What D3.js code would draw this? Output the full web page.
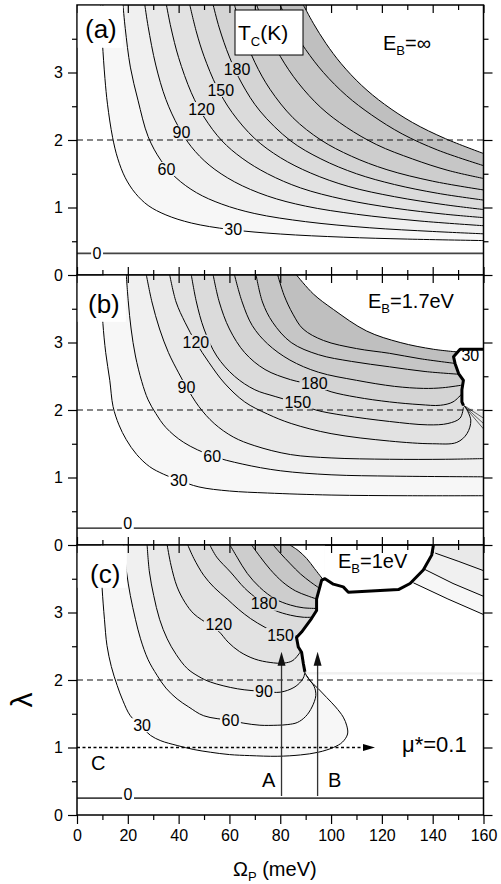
<!DOCTYPE html>
<html>
<head>
<meta charset="utf-8">
<script src="https://cdn.jsdelivr.net/npm/d3@7"></script>
<style>
body { margin: 0; background: #fff; }
svg text { font-family: "Liberation Sans", Arial, sans-serif; fill: #000; }
</style>
</head>
<body>
<svg width="501" height="884"></svg>
<script>
// Tc contour levels (K) and the grey painted above each level
var levels = [30, 60, 90, 120, 150, 180, 210, 240, 270, 300];
var greys = ['#f7f7f7', '#f0f0f0', '#e9e9e9', '#e2e2e2', '#dbdbdb', '#d4d4d4', '#cdcdcd', '#c6c6c6', '#bfbfbf', '#ffffff'];

var xTicks = [0, 20, 40, 60, 80, 100, 120, 140, 160];
var xMinor = [10, 30, 50, 70, 90, 110, 130, 150];
var yTicks = [0, 1, 2, 3];
var yMinor = [0.5, 1.5, 2.5, 3.5];

// (a) E_B = inf : one line per level, points are [Omega_P, lambda]
var contA = [
  [[9.3,4.0],[10,3.45],[11,2.91],[12,2.53],[14,2.04],[16,1.73],[19,1.44],[23,1.21],[28,1.03],[35,0.89],[45,0.77],[60,0.675],[80,0.607],[105,0.56],[130,0.532],[160,0.51]],
  [[18.1,4.0],[19,3.65],[21,3.08],[24,2.59],[28,2.05],[33,1.70],[39,1.44],[47,1.22],[57,1.05],[70,0.91],[90,0.79],[115,0.70],[140,0.645],[160,0.61]],
  [[26.7,4.0],[28,3.68],[31,3.11],[35,2.60],[40,2.19],[45,1.90],[52,1.63],[62,1.38],[75,1.17],[90,1.02],[110,0.90],[135,0.80],[160,0.73]],
  [[35.2,4.0],[37,3.66],[40,3.22],[45,2.70],[50,2.34],[57,1.99],[65,1.73],[75,1.50],[88,1.29],[105,1.12],[125,0.99],[145,0.90],[160,0.85]],
  [[44.4,4.0],[47,3.60],[50,3.24],[55,2.79],[61,2.41],[70,2.02],[80,1.74],[92,1.51],[107,1.31],[125,1.16],[145,1.04],[160,0.97]],
  [[53.6,4.0],[56,3.66],[60,3.23],[65,2.83],[72,2.43],[84,1.99],[96,1.72],[110,1.50],[125,1.34],[142,1.21],[160,1.11]],
  [[62,4.0],[65,3.62],[70,3.15],[76,2.75],[85,2.33],[96,2.0],[108,1.76],[122,1.56],[140,1.39],[160,1.26]],
  [[70.7,4.0],[74,3.69],[80,3.24],[87,2.85],[96,2.48],[106,2.19],[118,1.93],[132,1.72],[146,1.55],[160,1.43]],
  [[79.9,4.0],[84,3.70],[90,3.34],[97,3.0],[106,2.66],[116,2.37],[128,2.09],[142,1.85],[160,1.62]],
  [[89.1,4.0],[93,3.73],[98,3.43],[104,3.13],[112,2.81],[121,2.53],[132,2.26],[145,2.02],[160,1.80]]
];
var labA = [['180',63,3.05],['150',56.6,2.74],['120',49,2.46],['90',41.1,2.11],['60',35.2,1.57],['30',61.5,0.68],['0',7.9,0.32]];

// (b) E_B = 1.7 eV
var contB = [
  [[9.5,4.0],[9.8,3.6],[10.2,3.28],[11.3,2.85],[12.9,2.44],[14.2,2.05],[16.5,1.78],[19.4,1.56],[23.5,1.34],[28.6,1.16],[34,1.05],[40,0.96],[48,0.86],[60,0.80],[75,0.77],[100,0.74],[130,0.73],[160,0.73]],
  [[19.4,4.0],[20.2,3.6],[21.3,3.2],[23,2.8],[25.5,2.42],[28,2.15],[31,1.95],[35,1.74],[42,1.52],[53.2,1.32],[65,1.20],[80,1.10],[100,1.04],[125,1.02],[160,1.01]],
  [[27.3,4.0],[29.5,3.6],[32.5,3.2],[36,2.85],[40,2.55],[43.1,2.34],[48,2.05],[54,1.8],[61.5,1.6],[70,1.47],[84,1.34],[100,1.29],[123,1.27],[145,1.27],[160,1.28]],
  [[36.5,4.0],[39,3.6],[42.5,3.3],[46.8,3.0],[52,2.7],[58,2.4],[66,2.12],[75,1.94],[84.3,1.80],[100,1.65],[123,1.54],[140,1.50],[149.5,1.52],[153.5,1.65],[155,1.85],[152.8,2.05]],
  [[45,4.0],[47,3.6],[50,3.2],[55,2.8],[62,2.5],[70,2.3],[78,2.2],[86.9,2.1],[94,2.0],[105,1.92],[123,1.83],[138,1.78],[146,1.80],[150.8,1.88],[152.1,2.04]],
  [[53.6,4.0],[56,3.6],[60,3.2],[66,2.85],[74,2.6],[84,2.45],[93,2.37],[100,2.27],[110,2.19],[123,2.12],[135,2.08],[143,2.07],[148,2.12],[151.5,2.24]],
  [[62,4.0],[65,3.6],[69,3.25],[75,2.98],[83.8,2.74],[95,2.56],[110,2.44],[125,2.35],[136.4,2.32],[144,2.33],[151.8,2.37]],
  [[70.5,4.0],[73,3.6],[77,3.3],[84.3,3.0],[95,2.82],[108,2.72],[123,2.64],[137,2.57],[150.2,2.53]],
  [[79,4.0],[81.5,3.7],[85,3.42],[89,3.2],[97,3.03],[110,2.91],[123,2.84],[135,2.76],[148.8,2.69]],
  [[86.4,4.0],[93,3.72],[100.9,3.49],[114,3.17],[127.2,3.0],[140.3,2.90],[149.8,2.86]]
];
var labB = [['120',46.8,3.01],['90',43.1,2.34],['60',53.2,1.32],['30',40.1,0.96],['150',86.9,2.12],['180',93.4,2.40],['0',20,0.32]];
var edgeB = [[152.1,2.07],[151.5,2.12],[151.5,2.30],[152.1,2.44],[150.2,2.54],[148.8,2.69],[148.2,2.79],[150.8,2.90],[160,2.90]];
var fanB = [[[152.1,2.07],[160,1.88]], [[152.1,2.07],[160,1.80]], [[152.1,2.07],[160,1.72]]];

// (c) E_B = 1 eV
var contC = [
  [[9.2,4.0],[9.5,3.7],[9.9,3.35],[10.8,2.9],[11.8,2.51],[13.5,2.2],[15.8,1.92],[18,1.7],[21,1.47],[25.6,1.30],[28.9,1.18],[33,1.1],[39.4,1.03],[46,0.97],[52.5,0.93],[60,0.895],[68,0.88],[78.8,0.87],[88,0.89],[95,0.93],[100.9,1.0],[104.5,1.08],[106.5,1.2],[106.2,1.32],[104.8,1.45],[101.8,1.6],[98.3,1.74],[95,1.87],[91.7,1.99],[89.7,2.11]],
  [[18.4,4.0],[19.5,3.6],[21,3.25],[23,2.9],[25,2.61],[28,2.3],[31.5,2.07],[35,1.88],[39.4,1.72],[44,1.6],[49.9,1.47],[60.4,1.40],[65.7,1.36],[72,1.33],[78.8,1.33],[83,1.34],[86.7,1.37],[90,1.46],[92.5,1.6],[94,1.77],[93.4,1.9],[92,1.98],[90,2.08]],
  [[27.6,4.0],[28.5,3.6],[30.2,3.25],[32.5,2.9],[35.5,2.61],[39,2.38],[43.4,2.17],[48,2.05],[52.5,1.97],[63.1,1.87],[73.6,1.83],[80.1,1.82],[85.4,1.89],[88.2,1.98],[89.3,2.05],[89.7,2.12]],
  [[35.5,4.0],[37,3.7],[39.4,3.38],[42.5,3.15],[46,2.98],[52,2.82],[55.8,2.72],[59.5,2.56],[64,2.42],[70,2.31],[76,2.26],[81.4,2.25],[85,2.29],[88.2,2.43]],
  [[43.6,4.0],[46,3.8],[49.9,3.55],[54,3.37],[59.1,3.2],[63.5,3.05],[68.3,2.91],[74,2.78],[80.1,2.67],[84,2.64],[87.1,2.66]],
  [[52.3,4.0],[55,3.82],[60.4,3.6],[66,3.36],[71,3.2],[73.6,3.13],[78,3.03],[84,2.96],[89,2.93],[92.8,2.93]],
  [[60.2,4.0],[63,3.82],[67,3.58],[72,3.37],[78,3.2],[84,3.11],[89,3.07],[94.3,3.06]],
  [[68.7,4.0],[72,3.83],[76,3.64],[81,3.45],[86,3.32],[90.5,3.25],[94.3,3.20]],
  [[77.2,4.0],[80,3.88],[84,3.72],[88,3.57],[92,3.45],[95.4,3.36]],
  [[83.8,4.0],[87,3.92],[90.4,3.80],[93.5,3.65],[96.8,3.49]]
];
var labC = [['180',73.6,3.13],['150',80.1,2.67],['120',55.8,2.83],['90',73.6,1.83],['60',60.4,1.40],['30',25.6,1.33],['0',20.1,0.31]];
var edgeC1 = [[89.7,2.12],[89.1,2.24],[88.4,2.41],[87.1,2.49],[86.4,2.63],[88.4,2.71],[92.3,2.91],[94.3,3.03],[94.3,3.20],[95.6,3.38],[96.3,3.48],[97.6,3.50]];
var edgeC2 = [[100.9,3.42],[104.8,3.38],[106.8,3.30],[126.5,3.34],[131.1,3.43],[136.3,3.63],[139.6,3.85],[140.3,4.0]];
// lines on the far side of the edge, levels 90, 60, 30
var sideC = [
  [[141,3.88],[150,3.76],[160,3.62]],
  [[136.8,3.64],[148,3.43],[160,3.24]],
  [[132.4,3.44],[146,3.2],[160,2.97]]
];
var sideLevels = [90, 60, 30];
var zeroLam = [0.32, 0.25, 0.25];
var arrowsC = [[80.5, 0.28, 2.42], [94.7, 0.28, 2.42]];

var svg = d3.select('svg');
var defs = svg.append('defs');
var x = d3.scaleLinear().domain([0, 160]).range([77, 483.5]);
var tops = [5, 275, 545], ph = 270;

function smooth(y) {
  return d3.line().x(function(d){ return x(d[0]); }).y(function(d){ return y(d[1]); }).curve(d3.curveCatmullRom.alpha(0.5));
}
function straight(y) {
  return d3.line().x(function(d){ return x(d[0]); }).y(function(d){ return y(d[1]); });
}

function styleAxis(a, size) {
  a.select('.domain').remove();
  a.selectAll('.tick line').attr('stroke', '#000').attr('stroke-width', 1.2);
  a.selectAll('.tick text').attr('font-size', size || 16).attr('fill', '#000');
}

function panel(i, conts, labels, region) {
  var top = tops[i];
  var y = d3.scaleLinear().domain([0, 4]).range([top + ph, top]);
  var g = svg.append('g');
  defs.append('clipPath').attr('id', 'clip' + i).append('rect')
    .attr('x', x(0)).attr('y', top).attr('width', x(160) - x(0)).attr('height', ph);
  var plot = g.append('g').attr('clip-path', 'url(#clip' + i + ')');

  // painted from the lowest level up, each one covering everything above its line
  var fills = plot.append('g');
  if (region) {
    defs.append('clipPath').attr('id', 'reg' + i).append('path').attr('d', straight(y)(region) + 'Z');
    fills.attr('clip-path', 'url(#reg' + i + ')');
  }
  conts.forEach(function(c, k) {
    var last = c[c.length - 1];
    fills.append('path')
      .attr('d', smooth(y)(c) + 'L' + x(160) + ',' + y(last[1]) + 'L' + x(160) + ',' + y(4) + 'Z')
      .attr('fill', greys[k]);
  });

  plot.append('line')
    .attr('x1', x(0)).attr('x2', x(160)).attr('y1', y(2)).attr('y2', y(2))
    .attr('stroke', '#111').attr('stroke-width', 1.1).attr('stroke-dasharray', '6,4');

  var mask = defs.append('mask').attr('id', 'mask' + i).attr('maskUnits', 'userSpaceOnUse')
    .attr('x', 0).attr('y', 0).attr('width', 501).attr('height', 884);
  mask.append('rect').attr('width', 501).attr('height', 884).attr('fill', '#fff');

  var lines = plot.append('g').attr('mask', 'url(#mask' + i + ')');
  conts.forEach(function(c) {
    lines.append('path').attr('d', smooth(y)(c))
      .attr('fill', 'none').attr('stroke', '#000').attr('stroke-width', 1);
  });
  lines.append('line')
    .attr('x1', x(0)).attr('x2', x(160)).attr('y1', y(zeroLam[i])).attr('y2', y(zeroLam[i]))
    .attr('stroke', i === 1 ? '#111' : '#444').attr('stroke-width', i === 1 ? 1.1 : 1.8);

  labels.forEach(function(l) {
    var t = g.append('text').attr('x', x(l[1])).attr('y', y(l[2])).attr('dy', '0.36em')
      .attr('text-anchor', 'middle').attr('font-size', 16).text(l[0]);
    var w = t.node().getComputedTextLength();
    mask.append('rect').attr('x', x(l[1]) - w / 2 - 1.5).attr('y', y(l[2]) - 7)
      .attr('width', w + 3).attr('height', 14).attr('fill', '#000');
  });

  // axes
  var ax = g.append('g');
  styleAxis(ax.append('g').attr('transform', 'translate(' + x(0) + ',0)')
    .call(d3.axisLeft(y).tickValues(yTicks).tickSize(9).tickPadding(5).tickFormat(d3.format('d'))));
  styleAxis(ax.append('g').attr('transform', 'translate(' + x(0) + ',0)')
    .call(d3.axisLeft(y).tickValues(yMinor).tickSize(5).tickFormat('')));
  styleAxis(ax.append('g').attr('transform', 'translate(' + x(160) + ',0)')
    .call(d3.axisRight(y).tickValues(yTicks).tickSize(9).tickFormat('')));
  styleAxis(ax.append('g').attr('transform', 'translate(' + x(160) + ',0)')
    .call(d3.axisRight(y).tickValues(yMinor).tickSize(5).tickFormat('')));
  styleAxis(ax.append('g').attr('transform', 'translate(0,' + top + ')')
    .call(d3.axisBottom(x).tickValues(xTicks).tickSize(8).tickFormat('')));
  styleAxis(ax.append('g').attr('transform', 'translate(0,' + top + ')')
    .call(d3.axisBottom(x).tickValues(xMinor).tickSize(5).tickFormat('')));
  if (i < 2) {
    styleAxis(ax.append('g').attr('transform', 'translate(0,' + (top + ph) + ')')
      .call(d3.axisTop(x).tickValues(xTicks).tickSize(8).tickFormat('')));
    styleAxis(ax.append('g').attr('transform', 'translate(0,' + (top + ph) + ')')
      .call(d3.axisTop(x).tickValues(xMinor).tickSize(5).tickFormat('')));
  } else {
    styleAxis(ax.append('g').attr('transform', 'translate(0,' + (top + ph) + ')')
      .call(d3.axisBottom(x).tickValues(xTicks).tickSize(9).tickPadding(6).tickFormat(d3.format('d'))));
    styleAxis(ax.append('g').attr('transform', 'translate(0,' + (top + ph) + ')')
      .call(d3.axisBottom(x).tickValues(xMinor).tickSize(5).tickFormat('')));
  }
  g.append('rect').attr('x', x(0)).attr('y', top).attr('width', x(160) - x(0)).attr('height', ph)
    .attr('fill', 'none').attr('stroke', '#000').attr('stroke-width', 1.5);

  return { g: g, plot: plot, y: y, top: top };
}

function tag(p, txt, w, h, tx, ty) {
  p.g.append('rect').attr('x', x(0) + 0.8).attr('y', p.top + 0.8).attr('width', w).attr('height', h).attr('fill', '#fff');
  p.g.append('text').attr('x', tx).attr('y', ty).attr('font-size', 26).text(txt);
}
function eb(p, tx, ty, val) {
  var t = p.g.append('text').attr('x', tx).attr('y', ty).attr('font-size', 20);
  t.append('tspan').text('E');
  t.append('tspan').attr('font-size', 13).attr('dy', 5).text('B');
  t.append('tspan').attr('dy', -5).text('=' + val);
}

// ---- panel (a)
var pa = panel(0, contA, labA, null);
tag(pa, '(a)', 45, 42, 85, 38);
pa.g.append('rect').attr('x', 235).attr('y', 10).attr('width', 68).attr('height', 45)
  .attr('fill', '#fff').attr('stroke', '#000').attr('stroke-width', 1);
var tc = pa.g.append('text').attr('x', 238).attr('y', 40).attr('font-size', 21);
tc.append('tspan').text('T');
tc.append('tspan').attr('font-size', 13).attr('dy', 6).text('C');
tc.append('tspan').attr('dy', -6).text('(K)');
eb(pa, 383, 50, '\u221e');

// ---- panel (b)
var regB = [[-5, -1], [165, -1], [165, 1.88]].concat(edgeB).concat([[165, 2.90], [165, 5], [-5, 5]]);
var pb = panel(1, contB, labB, regB);
pb.plot.append('text').attr('x', x(154.8)).attr('y', pb.y(2.81)).attr('dy', '0.36em')
  .attr('text-anchor', 'middle').attr('font-size', 16).text('30');
fanB.forEach(function(f) {
  pb.plot.append('path').attr('d', straight(pb.y)(f)).attr('fill', 'none').attr('stroke', '#000').attr('stroke-width', 0.6);
});
pb.plot.append('path').attr('d', straight(pb.y)(edgeB)).attr('fill', 'none')
  .attr('stroke', '#000').attr('stroke-width', 3).attr('stroke-linejoin', 'round');
tag(pb, '(b)', 48, 46, 88, 313);
eb(pb, 368, 308, '1.7eV');

// ---- panel (c)
var regC = [[-5, -1], [165, -1], [165, 2.11]].concat(edgeC1).concat([[97.6, 5], [-5, 5]]);
var pc = panel(2, contC, labC, regC);
var sideReg = edgeC2.filter(function(d){ return d[0] > 131; }).concat([[165, 5], [165, 2.5], [131.1, 2.5]]);
defs.append('clipPath').attr('id', 'side').append('path').attr('d', straight(pc.y)(sideReg) + 'Z');
var side = pc.plot.append('g').attr('clip-path', 'url(#side)');
sideC.slice().reverse().forEach(function(c, k) {
  var lev = sideLevels[sideLevels.length - 1 - k];
  side.append('path')
    .attr('d', straight(pc.y)(c) + 'L' + x(160) + ',' + pc.y(5) + 'L' + x(120) + ',' + pc.y(5) + 'Z')
    .attr('fill', greys[levels.indexOf(lev)]);
});
sideC.forEach(function(c) {
  pc.plot.append('path').attr('d', straight(pc.y)(c)).attr('fill', 'none').attr('stroke', '#000').attr('stroke-width', 1);
});
pc.plot.append('path').attr('d', straight(pc.y)(edgeC1.concat(edgeC2))).attr('fill', 'none')
  .attr('stroke', '#000').attr('stroke-width', 3).attr('stroke-linejoin', 'round');

// mu* line with arrow
var yc = pc.y;
pc.plot.append('line').attr('x1', x(0)).attr('x2', x(113)).attr('y1', yc(1)).attr('y2', yc(1))
  .attr('stroke', '#000').attr('stroke-width', 1.5).attr('stroke-dasharray', '3,2.5');
pc.plot.append('path')
  .attr('d', 'M' + x(117.3) + ',' + yc(1) + 'L' + (x(117.3) - 12) + ',' + (yc(1) - 3.5) + 'L' + (x(117.3) - 12) + ',' + (yc(1) + 3.5) + 'Z')
  .attr('fill', '#000');
arrowsC.forEach(function(a) {
  pc.plot.append('line').attr('x1', x(a[0])).attr('x2', x(a[0])).attr('y1', yc(a[1])).attr('y2', yc(a[2]) + 8)
    .attr('stroke', '#333').attr('stroke-width', 1.3);
  pc.plot.append('path')
    .attr('d', 'M' + x(a[0]) + ',' + yc(a[2]) + 'L' + (x(a[0]) - 4) + ',' + (yc(a[2]) + 14) + 'L' + (x(a[0]) + 4) + ',' + (yc(a[2]) + 14) + 'Z')
    .attr('fill', '#111');
});
tag(pc, '(c)', 49, 42, 90, 583);
eb(pc, 338, 568, '1eV');
pc.g.append('text').attr('x', 402).attr('y', 752).attr('font-size', 22).text('\u03bc*=0.1');
pc.g.append('text').attr('x', 262).attr('y', 787).attr('font-size', 20).text('A');
pc.g.append('text').attr('x', 328).attr('y', 787).attr('font-size', 20).text('B');
pc.g.append('text').attr('x', 91).attr('y', 770).attr('font-size', 20).text('C');

// axis titles
svg.append('text').attr('transform', 'translate(32,700) rotate(-90)').attr('text-anchor', 'middle')
  .attr('font-size', 30).text('\u03bb');
var xt = svg.append('text').attr('x', 233).attr('y', 876).attr('font-size', 20);
xt.append('tspan').text('\u03a9');
xt.append('tspan').attr('font-size', 13).attr('dy', 5).text('P');
xt.append('tspan').attr('dy', -5).text(' (meV)');
</script>
</body>
</html>
